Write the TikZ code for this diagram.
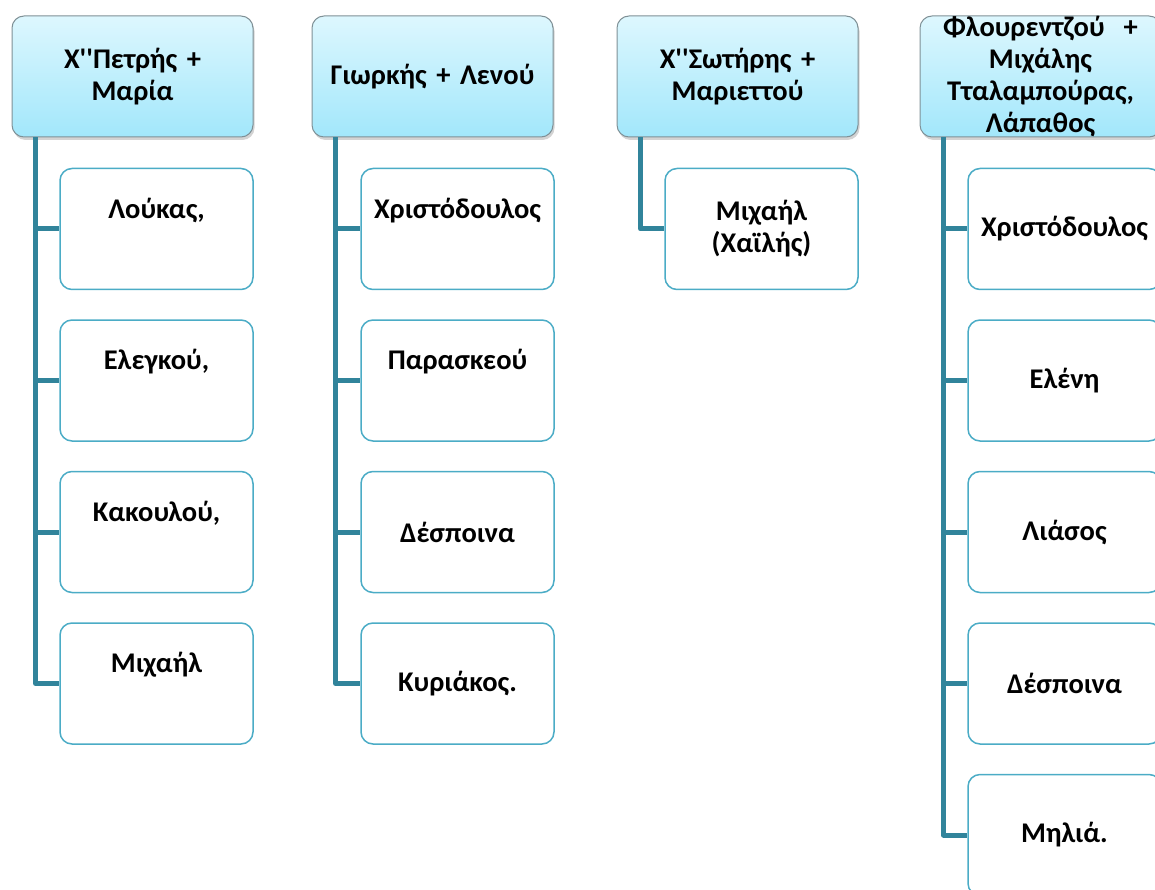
\documentclass[tikz,border=0pt]{standalone}
\usepackage{fontspec}
\setmainfont{Carlito}
\usepackage{tikz}
\usetikzlibrary{shadows}

\definecolor{hdtop}{HTML}{DDF7FE}
\definecolor{hdbot}{HTML}{A2E7FB}
\definecolor{hdline}{HTML}{7F9096}
\definecolor{kidline}{HTML}{4BACC6}
\definecolor{stemcol}{HTML}{31849B}

\newcommand{\qq}{\textquotesingle\textquotesingle}

\tikzset{
	head/.style={rectangle,rounded corners=12pt,draw=hdline,line width=1pt,
		top color=hdtop,bottom color=hdbot,minimum width=241pt,minimum height=121pt,
		text width=239pt,align=center,inner sep=0pt,
		drop shadow={opacity=0.35,shadow xshift=1.5pt,shadow yshift=-3pt}},
	kid/.style={rectangle,rounded corners=12pt,draw=kidline,line width=1.5pt,fill=white,
		minimum width=193pt,minimum height=121pt,text width=191pt,align=center,inner sep=0pt},
	stem/.style={draw=stemcol,line width=5pt,line join=round}
}

\begin{document}
\begin{tikzpicture}[x=1pt,y=-1pt,font=\fontsize{28.5}{32}\selectfont\bfseries]
			\useasboundingbox (0,0) rectangle (1155,890);
			\clip (0,0) rectangle (1155,890);
			
			% first family
			
			\node[head] (H1) at (132.5,76.5) {Χ\qq Πετρής +\\ Μαρία};
			\foreach \t [count=\i] in {{Λούκας,\\ \strut},{Ελεγκού,\\ \strut},{Κακουλού,\\ \strut},{Μιχαήλ\\ \strut}} {
				\pgfmathsetmacro{\yy}{229+151.5*(\i-1)}
				\node[kid] (K1\i) at (156.5,\yy) {\t};
				\draw[stem] ([xshift=24pt]H1.south west) |- (K1\i.west);
			}
			
			% second family
			
			\node[head] (H2) at (432.5,76.5) {Γιωρκής + Λενού};
			\foreach \t [count=\i] in {{Χριστόδουλος\\ \strut},{Παρασκεού\\ \strut},{Δέσποινα},{Κυριάκος.}} {
				\pgfmathsetmacro{\yy}{229+151.5*(\i-1)}
				\node[kid] (K2\i) at (457.5,\yy) {\t};
				\draw[stem] ([xshift=24pt]H2.south west) |- (K2\i.west);
			}
			
			% third family
			
			\node[head] (H3) at (737.5,76.5) {Χ\qq Σωτήρης +\\ Μαριεττού};
			\node[kid] (K31) at (761.5,229) {Μιχαήλ\\ (Χαϊλής)};
			\draw[stem] ([xshift=24pt]H3.south west) |- (K31.west);
			
			% fourth family
			
			\node[head] (H4) at (1040.5,76.5) {Φλουρεντζού\ \ +\\ Μιχάλης\\ Τταλαμπούρας,\\ Λάπαθος};
			\foreach \t [count=\i] in {Χριστόδουλος,Ελένη,Λιάσος,Δέσποινα,Μηλιά.} {
				\pgfmathsetmacro{\yy}{229+151.5*(\i-1)}
				\node[kid] (K4\i) at (1064.5,\yy) {\t};
				\draw[stem] ([xshift=24pt]H4.south west) |- (K4\i.west);
			}
		\end{tikzpicture}
\end{document}
